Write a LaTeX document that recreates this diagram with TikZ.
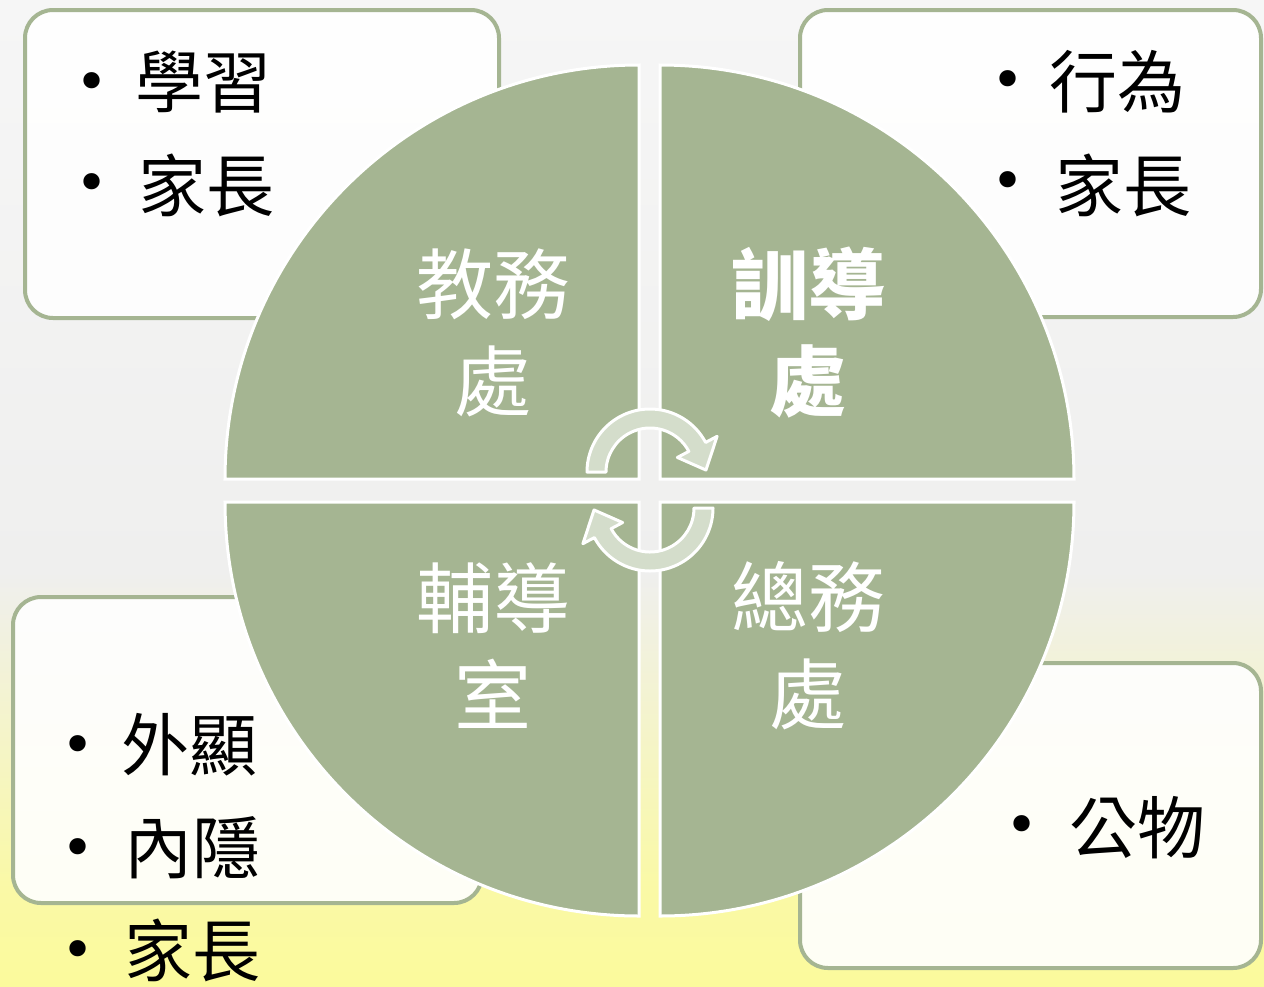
\documentclass[tikz,border=0pt]{standalone}
\usepackage{fontspec}
\newfontfamily\cjk{Noto Sans CJK TC}
\newfontfamily\dv{DejaVu Sans}
\definecolor{qgreen}{HTML}{A5B592}
\definecolor{agreen}{HTML}{D4DDCB}
\definecolor{bgtop}{HTML}{F6F6F6}
\definecolor{bgmid}{HTML}{EFEFEE}
\definecolor{bgyel}{HTML}{FAF9A6}
\definecolor{bgbot}{HTML}{FBFA9C}
\pgfdeclareverticalshading{bgshade}{100bp}{color(0bp)=(bgbot); color(25bp)=(bgbot); color(30bp)=(bgyel); color(46bp)=(bgmid); color(75bp)=(bgtop); color(100bp)=(bgtop)}
\tikzset{
 box/.style={draw=qgreen, line width=4pt, rounded corners=28pt, fill=white, fill opacity=0.9, inner sep=0pt},
 quad/.style={fill=qgreen, draw=white, line width=3pt},
 cyc/.style={fill=agreen, draw=white, line width=3pt, line join=round},
 bul/.style={font=\dv\fontsize{56}{56}\selectfont, inner sep=0pt, yshift=-5.5pt},
 item/.style={font=\cjk\fontsize{68}{68}\selectfont, inner sep=0pt, anchor=west},
 qtext/.style={font=\cjk\fontsize{77}{97}\selectfont, text=white, align=center, inner sep=0pt},
}
\begin{document}
\begin{tikzpicture}[x=1pt,y=1pt]
\useasboundingbox (0,0) rectangle (1264,-986);
\clip (0,0) rectangle (1264,-986);
\shade[shading=bgshade] (0,0) rectangle (1264,-986);

% boxes
\node[box, minimum width=474pt, minimum height=308pt] (boxTL) at (262,-164) {};
\node[box, minimum width=461pt, minimum height=307pt] (boxTR) at (1030.5,-163.5) {};
\node[box, minimum width=469pt, minimum height=306pt] (boxBL) at (247.5,-750) {};
\node[box, minimum width=461pt, minimum height=305pt] (boxBR) at (1030.5,-815.5) {};

% quadrants
\draw[quad] (639,-479) -- (225,-479) arc[start angle=180, end angle=90, radius=414] -- cycle;
\draw[quad] (660,-479) -- (660,-65) arc[start angle=90, end angle=0, radius=414] -- cycle;
\draw[quad] (639,-502) -- (225,-502) arc[start angle=180, end angle=270, radius=414] -- cycle;
\draw[quad] (660,-502) -- (1074,-502) arc[start angle=0, end angle=-90, radius=414] -- cycle;

% cycle arrows
\draw[cyc, shift={(650,-472)}] (180:63) arc[start angle=180, end angle=28, radius=63]
  -- (28:76) -- (2:56) -- (28:31) -- (28:44) arc[start angle=28, end angle=180, radius=44] -- cycle;
\draw[cyc, shift={(650,-508)}] (0:63) arc[start angle=0, end angle=-152, radius=63]
  -- (-152:76) -- (-178:56) -- (-152:31) -- (-152:44) arc[start angle=-152, end angle=0, radius=44] -- cycle;

% quadrant labels
\node[qtext] (qTL) at (493,-333) {教務\\處};
\node[qtext, font=\cjk\bfseries\fontsize{77}{97}\selectfont] (qTR) at (808,-333) {訓導\\處};
\node[qtext] (qBL) at (493,-646) {輔導\\室};
\node[qtext] (qBR) at (808,-646) {總務\\處};

% box items
\node[bul] (bTL1) at (92,-82) {•};
\node[item] (tTL1) at (135,-82) {學習};
\node[bul] (bTL2) at (92,-183) {•};
\node[item] (tTL2) at (138,-185) {家長};

\node[bul] (bTR1) at (1008,-80) {•};
\node[item] (tTR1) at (1049,-82) {行為};
\node[bul] (bTR2) at (1008,-181) {•};
\node[item] (tTR2) at (1055,-185) {家長};

\node[bul] (bBL1) at (78,-745) {•};
\node[item] (tBL1) at (121,-745) {外顯};
\node[bul] (bBL2) at (78,-848) {•};
\node[item] (tBL2) at (124,-848) {內隱};
\node[bul] (bBL3) at (78,-950) {•};
\node[item] (tBL3) at (124,-950) {家長};

\node[bul] (bBR1) at (1022,-825) {•};
\node[item] (tBR1) at (1069,-828) {公物};
\end{tikzpicture}
\end{document}
